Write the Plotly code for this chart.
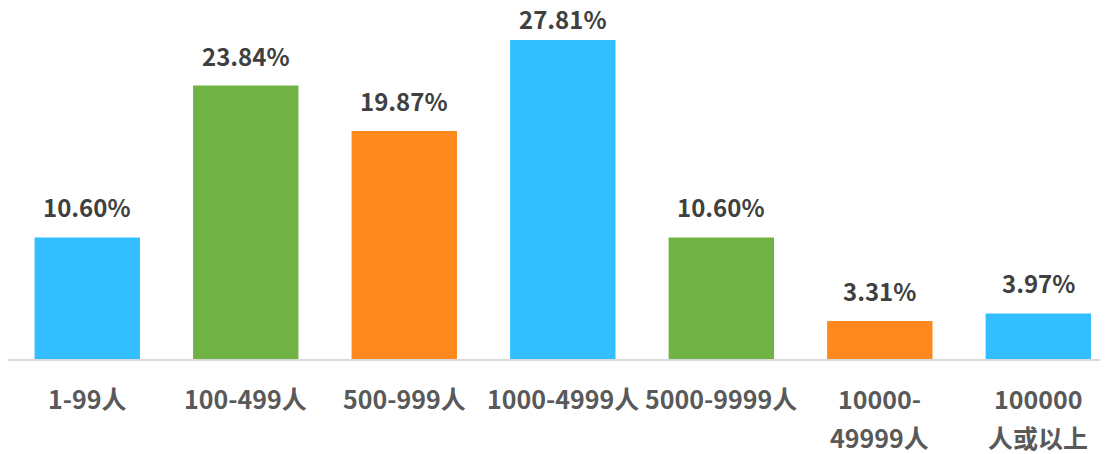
import plotly.graph_objects as go

# -----------------------------
# DATA
# -----------------------------
categories = ["1-99人", "100-499人", "500-999人", "1000-4999人",
              "5000-9999人", "10000-\n49999人", "100000\n人或以上"]
values = [10.60, 23.84, 19.87, 27.81, 10.60, 3.31, 3.97]
value_labels = ["10.60%", "23.84%", "19.87%", "27.81%", "10.60%", "3.31%", "3.97%"]

palette = ["#33BEFF", "#70B244", "#FF891C"]
FONT = "Noto Sans CJK SC, Microsoft YaHei, sans-serif"

# -----------------------------
# BUILD FIGURE
# -----------------------------
xs = list(range(len(categories)))
bar_colors = [palette[i % 3] for i in xs]

fig = go.Figure()

fig.add_trace(go.Bar(
    x=xs,
    y=values,
    width=0.665,
    marker=dict(color=bar_colors, line=dict(width=0)),
    hoverinfo="skip",
    showlegend=False
))

annotations = []

# value labels above bars (tallest one squeezed down to stay on the page)
for x, v, t in zip(xs, values, value_labels):
    annotations.append(dict(
        x=x, y=v, xref="x", yref="y",
        text="<b>" + t + "</b>",
        showarrow=False, yanchor="bottom",
        yshift=2 if v == max(values) else 11,
        font=dict(family=FONT, size=24, color="#404040")
    ))

# category labels (wrapped, wide line spacing)
for x, c in zip(xs, categories):
    for i, line in enumerate(c.split("\n")):
        annotations.append(dict(
            x=x, y=0, xref="x", yref="paper",
            text="<b>" + line + "</b>",
            showarrow=False, yanchor="middle", yshift=-39 - 39 * i,
            font=dict(family=FONT, size=25, color="#595959")
        ))

# the page body adds an 8px margin, so the figure is laid out 8px up/left
fig.update_layout(
    width=1108, height=454,
    margin=dict(l=0, r=0, t=0, b=103),
    paper_bgcolor="white",
    plot_bgcolor="white",
    annotations=annotations,
    xaxis=dict(
        range=[-0.5, 6.49],
        showticklabels=False,
        showgrid=False,
        zeroline=False,
        showline=True,
        linecolor="#D9D9D9",
        linewidth=2,
        ticks=""
    ),
    yaxis=dict(
        range=[0, 30.6],
        visible=False,
        showgrid=False,
        zeroline=False
    )
)

fig.write_html("out.html")
